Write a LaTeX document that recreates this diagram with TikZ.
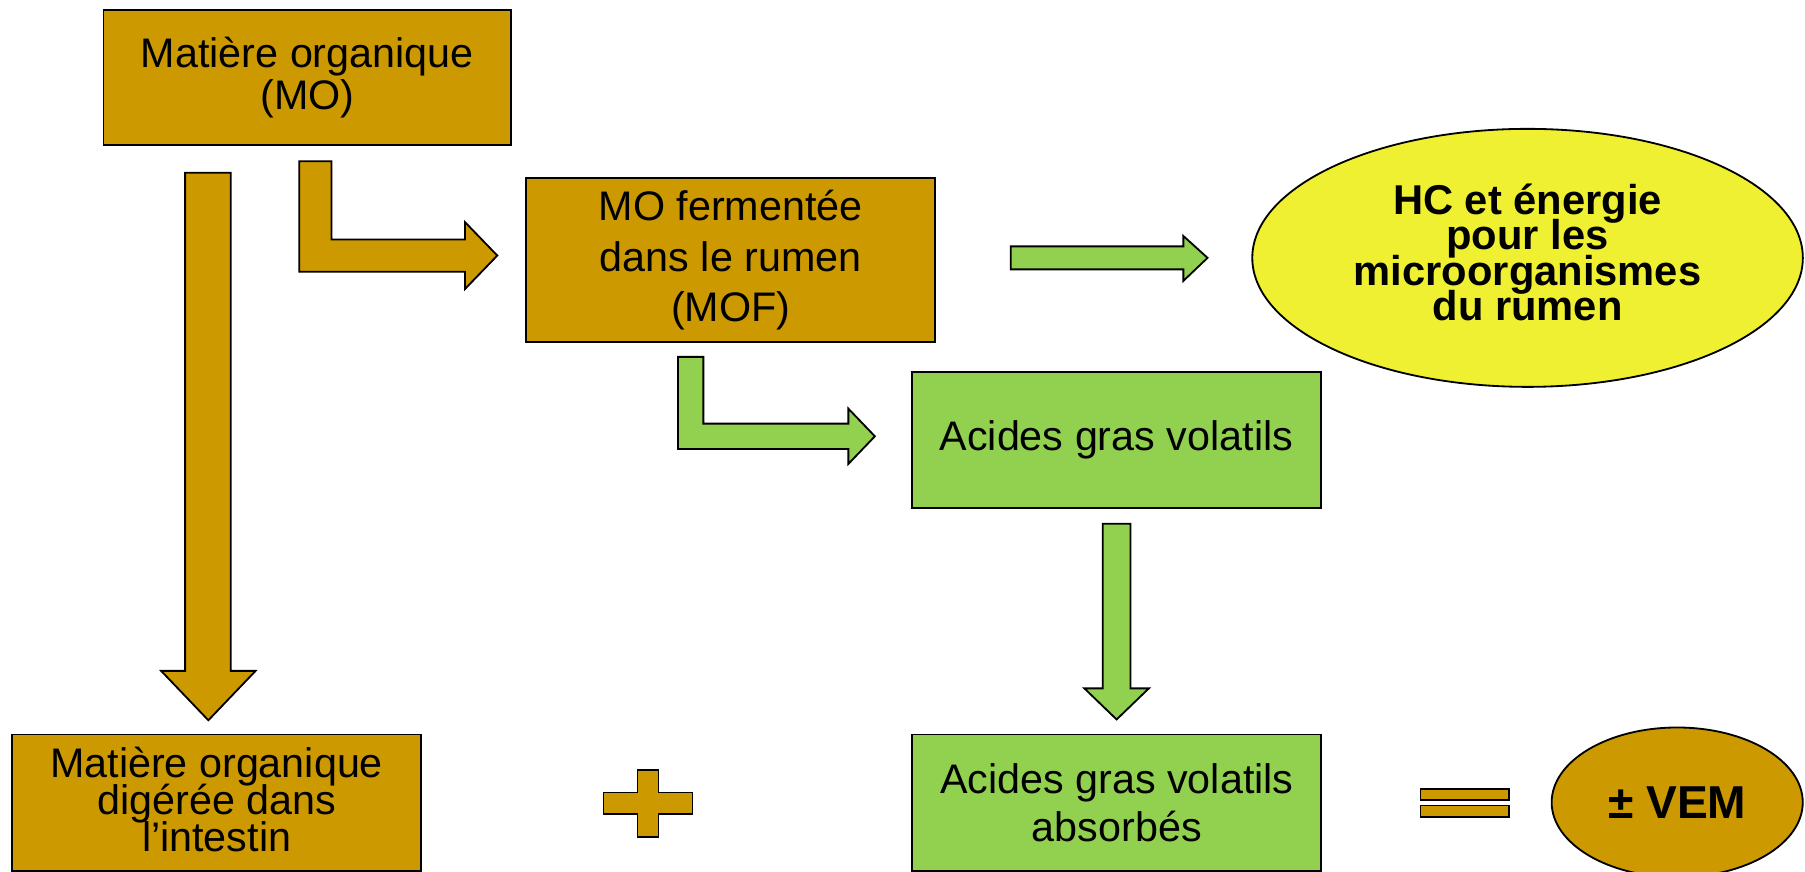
\documentclass[tikz,border=0pt]{standalone}
\usepackage{fontspec}
\setmainfont{Liberation Sans}
\usetikzlibrary{shapes.geometric}
\definecolor{gold}{HTML}{CC9900}
\definecolor{vert}{HTML}{92D050}
\definecolor{jaune}{HTML}{F0F032}
\newcommand\tightls{\lineskiplimit -20pt\relax}
\tikzset{
  box/.style={draw=black, line width=0.45pt, inner sep=0pt, align=center,
    minimum width=3.55cm, minimum height=1.18cm, font=\fontsize{10.2}{10.3}\selectfont\tightls},
  goldbox/.style={box, fill=gold},
  greenbox/.style={box, fill=vert},
  goldshape/.style={draw=black, line width=0.45pt, fill=gold, line join=miter},
  greenshape/.style={draw=black, line width=0.45pt, fill=vert, line join=miter},
  oval/.style={ellipse, draw=black, line width=0.45pt, inner sep=0pt, align=center}
}
\begin{document}
\begin{tikzpicture}[x=0.01cm, y=-0.01cm]
\useasboundingbox (0,0) rectangle (1568,757);
\fill[white] (0,0) rectangle (1568,757);

% boxes
\node[goldbox, minimum width=3.54cm, minimum height=1.175cm] (mo) at (267,67.5) {Matière organique\\(MO)};
\node[goldbox, minimum height=1.42cm, font=\fontsize{10.2}{12.4}\selectfont\tightls] (mof) at (634.8,226) {MO fermentée\\dans le rumen\\(MOF)};
\node[greenbox] (agv) at (969.8,382) {Acides gras volatils};
\node[goldbox, minimum height=1.185cm, text depth=0.06cm, font=\fontsize{10.2}{9.1}\selectfont\tightls] (mod) at (188.2,697.3) {Matière organique\\digérée dans\\l’intestin};
\node[greenbox, minimum height=1.185cm, font=\fontsize{10.2}{11.7}\selectfont\tightls] (agva) at (970.2,697.3) {Acides gras volatils\\absorbés};

% ellipses
\node[oval, fill=jaune, minimum width=4.78cm, minimum height=2.24cm, text depth=0.1cm,
      font=\bfseries\fontsize{10.3}{8.7}\selectfont\tightls] (hc) at (1327,224)
      {HC et énergie\\pour les\\microorganismes\\du rumen};
\node[oval, fill=gold, minimum width=2.18cm, minimum height=1.3cm,
      font=\bfseries\fontsize{11.4}{12}\selectfont] (vem) at (1457,697) {± VEM};

% block arrows
\draw[goldshape] (160.8,150) -- (200.4,150) -- (200.4,582.8) -- (222,582.8)
  -- (181,625.7) -- (140,582.8) -- (160.8,582.8) -- cycle;
\draw[goldshape] (260,140) -- (288,140) -- (288,208) -- (404,208) -- (404,193)
  -- (432,222) -- (404,251) -- (404,236) -- (260,236) -- cycle;
\draw[greenshape] (878,214) -- (1028,214) -- (1028,205) -- (1049,224)
  -- (1028,244) -- (1028,234) -- (878,234) -- cycle;
\draw[greenshape] (589,310) -- (611,310) -- (611,368) -- (737,368) -- (737,355)
  -- (760,379) -- (737,403) -- (737,390) -- (589,390) -- cycle;
\draw[greenshape] (958,455) -- (982,455) -- (982,598) -- (998,598)
  -- (970,625) -- (942,598) -- (958,598) -- cycle;

% plus sign
\draw[goldshape] (553.8,669) -- (572,669) -- (572,688.5) -- (601.6,688.5)
  -- (601.6,706.8) -- (572,706.8) -- (572,727) -- (553.8,727) -- (553.8,706.8)
  -- (524.3,706.8) -- (524.3,688.5) -- (553.8,688.5) -- cycle;

% equals sign
\draw[goldshape] (1234,685.6) rectangle (1311,695.2);
\draw[goldshape] (1234,699.8) rectangle (1311,709.7);
\end{tikzpicture}
\end{document}
